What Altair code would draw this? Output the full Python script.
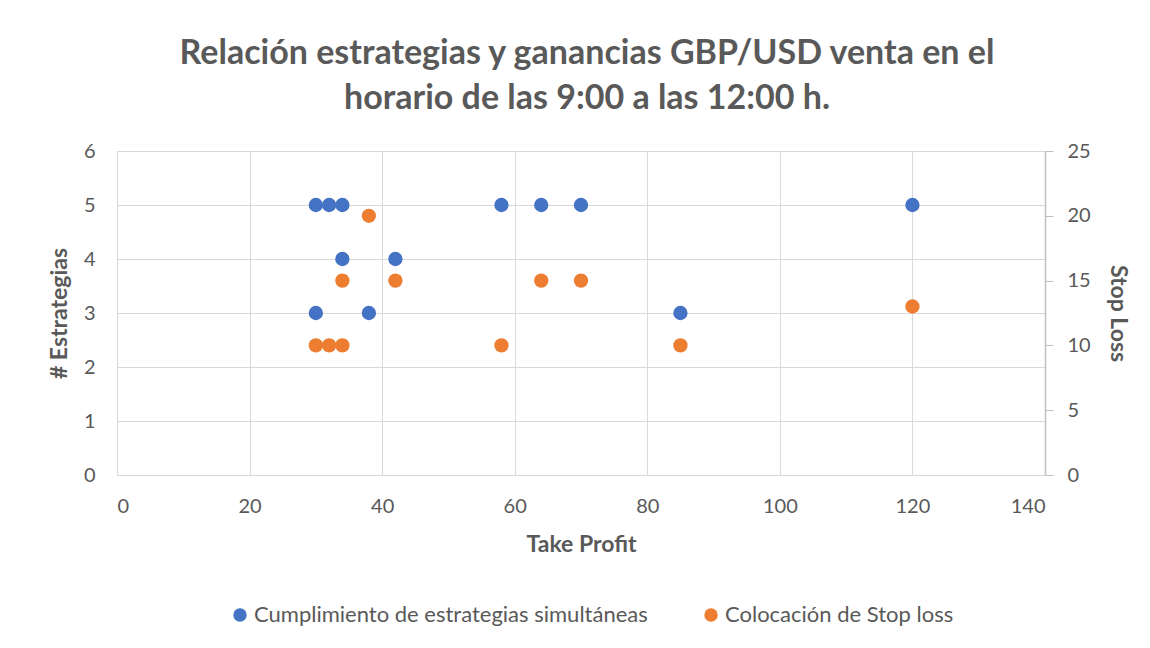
import altair as alt
import pandas as pd

take_profit_a = [30, 32, 34, 58, 64, 70, 120, 34, 42, 30, 38, 85]
estrategias = [5, 5, 5, 5, 5, 5, 5, 4, 4, 3, 3, 3]

take_profit_b = [30, 32, 34, 38, 34, 42, 58, 64, 70, 85, 120]
stop_loss = [10, 10, 10, 20, 15, 15, 10, 15, 15, 10, 13]

series_a = "Cumplimiento de estrategias simultáneas"
series_b = "Colocación de Stop loss"

df_a = pd.DataFrame({"tp": take_profit_a, "v": estrategias, "serie": series_a})
df_b = pd.DataFrame({"tp": take_profit_b, "v": stop_loss, "serie": series_b})

FONT = "Lato"
GREY = "#595959"

color = alt.Color(
    "serie:N",
    scale=alt.Scale(domain=[series_a, series_b], range=["#4472C4", "#ED7D31"]),
    legend=alt.Legend(
        title=None, orient="none", direction="horizontal",
        legendX=112, legendY=453, symbolType="circle", symbolSize=180,
        labelFontSize=22, labelColor=GREY, labelFont=FONT, labelLimit=0,
        columnPadding=52, symbolOffset=0, labelOffset=3,
    ),
)

x_enc = alt.X(
    "tp:Q",
    scale=alt.Scale(domain=[0, 140], nice=False),
    axis=alt.Axis(
        values=[0, 20, 40, 60, 80, 100, 120, 140], title="Take Profit",
        grid=True, gridColor="#d9d9d9", domain=False, ticks=False,
        labelPadding=21, titlePadding=17,
    ),
)

left = alt.Chart(df_a).mark_circle(size=205, opacity=1).encode(
    x=x_enc,
    y=alt.Y(
        "v:Q", scale=alt.Scale(domain=[0, 6], nice=False),
        axis=alt.Axis(
            values=[0, 1, 2, 3, 4, 5, 6], title="# Estrategias", grid=True,
            gridColor="#d9d9d9", domain=False, ticks=False, labelPadding=22,
            titlePadding=12,
        ),
    ),
    color=color,
)

right = alt.Chart(df_b).mark_circle(size=205, opacity=1).encode(
    x=x_enc,
    y=alt.Y(
        "v:Q", scale=alt.Scale(domain=[0, 25], nice=False),
        axis=alt.Axis(
            orient="right", values=[0, 5, 10, 15, 20, 25], title="Stop Loss",
            grid=False, domain=True, domainColor="#bfbfbf", domainWidth=1.5,
            ticks=True, tickColor="#bfbfbf", tickSize=8, labelPadding=14,
            titlePadding=15,
        ),
    ),
    color=color,
)

chart = (
    alt.layer(left, right)
    .resolve_scale(y="independent", color="shared")
    .properties(
        width=928, height=324,
        autosize=alt.AutoSizeParams(type="none"),
        padding={"left": 109, "top": 143, "right": 97, "bottom": 165},
        title=alt.TitleParams(
            text=["Relación estrategias y ganancias GBP/USD venta en el",
                  "horario de las 9:00 a las 12:00 h."],
            fontSize=34, font=FONT, fontWeight="bold", color=GREY,
            anchor="middle", offset=25, lineHeight=45, dx=6,
        ),
    )
    .configure_view(stroke=None)
    .configure_axis(
        labelFont=FONT, labelFontSize=20, labelColor=GREY,
        titleFont=FONT, titleFontSize=23, titleColor=GREY, titleFontWeight="bold",
    )
)

chart.save("out.html", embed_options={"renderer": "svg", "actions": False})
